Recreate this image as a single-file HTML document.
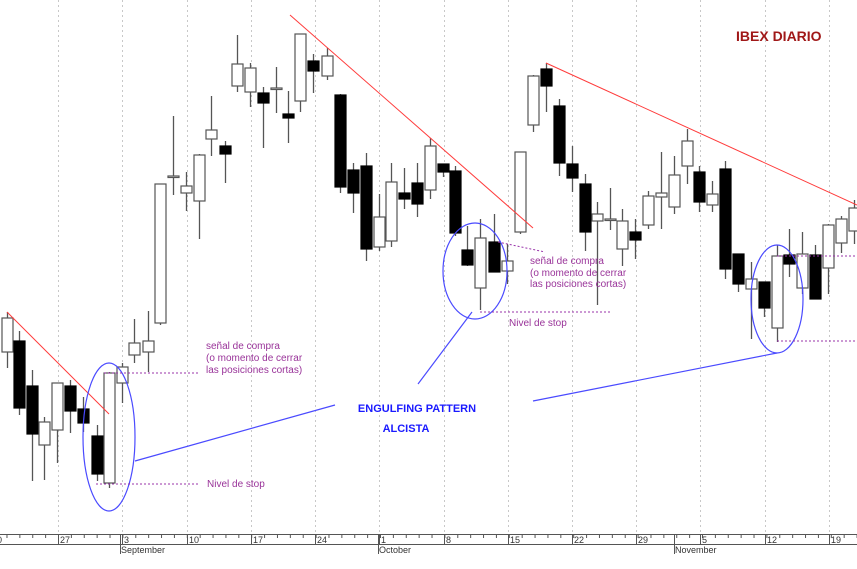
<!DOCTYPE html>
<html><head><meta charset="utf-8"><style>
html,body{margin:0;padding:0;background:#fff;}
svg{display:block;font-family:"Liberation Sans",sans-serif;}
</style></head><body>
<svg id="c" width="857" height="569" viewBox="0 0 857 569" xmlns="http://www.w3.org/2000/svg">
<rect width="857" height="569" fill="#fff"/>
<g id="grid" stroke="#c8c8c8" stroke-dasharray="2,3" stroke-width="1"></g>
<g id="axis"></g>
<g id="candles"></g>
<g fill="none" stroke="#ff3b3b" stroke-width="1">
<line x1="7" y1="312" x2="109" y2="414"/>
<line x1="290" y1="15" x2="533" y2="228"/>
<line x1="546" y1="63" x2="857" y2="205"/>
</g>
<g fill="none" stroke="#4a4aff" stroke-width="1.2">
<ellipse cx="109" cy="437" rx="26" ry="74"/>
<ellipse cx="475" cy="271" rx="32" ry="48"/>
<ellipse cx="777" cy="299" rx="26" ry="54"/>
<line x1="135" y1="461" x2="335" y2="405"/>
<line x1="418" y1="384" x2="472" y2="312"/>
<line x1="533" y1="401" x2="777" y2="353"/>
</g>
<g fill="none" stroke="#9933aa" stroke-width="1" stroke-dasharray="2,2">
<line x1="104" y1="373" x2="200" y2="373"/>
<line x1="96" y1="484" x2="200" y2="484"/>
<line x1="498" y1="242" x2="545" y2="252"/>
<line x1="480" y1="312" x2="610" y2="312"/>
<line x1="777" y1="256" x2="857" y2="256"/>
<line x1="777" y1="341" x2="857" y2="341"/>
</g>
<g fill="#993399" font-size="10">
<text x="206" y="349">señal de compra</text>
<text x="206" y="361">(o momento de cerrar</text>
<text x="206" y="373">las posiciones cortas)</text>
<text x="207" y="487">Nivel de stop</text>
<text x="530" y="264">señal de compra</text>
<text x="530" y="276">(o momento de cerrar</text>
<text x="530" y="287">las posiciones cortas)</text>
<text x="509" y="326">Nivel de stop</text>
</g>
<g fill="#1a1aff" font-size="11" font-weight="bold" text-anchor="middle">
<text x="417" y="412">ENGULFING PATTERN</text>
<text x="406" y="432">ALCISTA</text>
</g>
<text x="736" y="41" fill="#a01818" font-size="14" font-weight="bold">IBEX DIARIO</text>
</svg>
<script>
var NS="http://www.w3.org/2000/svg";
function el(p,t,a){var e=document.createElementNS(NS,t);for(var k in a)e.setAttribute(k,a[k]);p.appendChild(e);return e;}
// x, boxTop, boxBot, wickHi, wickLo, black?
var C=[[7,318,352,312,368,0],[19,341,408,331,415,1],[32,386,434,370,481,1],[44,422,445,417,480,0],[57,383,430,383,463,0],[70,386,411,380,433,1],[83,409,423,397,432,1],[97,436,474,425,481,1],[109,373,483,372,488,0],[122,367,383,363,403,0],[134,343,355,319,363,0],[148,341,352,311,372,0],[160,184,323,184,325,0],[173,176,176,116,195,0],[186,186,193,172,211,0],[199,155,201,154,239,0],[211,130,139,96,156,0],[225,146,154,141,183,1],[237,64,86,35,92,0],[250,68,92,63,107,0],[263,93,103,87,148,1],[276,88,88,67,113,0],[288,114,118,91,143,1],[300,34,101,34,112,0],[313,61,71,54,93,1],[327,56,76,48,80,0],[340,95,187,94,193,1],[353,170,193,163,213,1],[366,166,249,153,261,1],[379,217,247,194,251,0],[391,182,241,163,247,0],[404,193,199,168,209,1],[417,183,204,163,217,1],[430,146,190,138,199,0],[443,164,172,164,177,1],[455,171,233,166,236,1],[467,250,265,226,266,1],[480,238,288,219,310,0],[494,242,272,214,272,1],[507,261,271,244,284,0],[520,152,232,152,234,0],[533,76,125,75,132,0],[546,69,86,63,112,1],[559,106,163,99,176,1],[572,164,178,146,192,1],[585,184,232,174,251,1],[597,214,221,202,305,0],[610,219,219,188,230,0],[622,221,249,209,266,0],[635,232,240,219,259,1],[648,196,225,191,229,0],[661,193,197,152,229,0],[674,175,207,156,214,0],[687,141,166,129,184,0],[699,172,202,166,212,1],[712,194,205,181,212,0],[725,169,269,161,279,1],[738,254,284,254,292,1],[751,279,289,262,339,0],[764,282,308,282,317,1],[777,256,328,245,342,0],[789,255,264,229,277,1],[802,254,288,232,294,0],[815,255,299,245,299,1],[828,225,268,224,294,0],[841,219,243,216,253,0],[854,208,231,200,244,0]];
var g=document.getElementById("candles");
C.forEach(function(c){
 el(g,"line",{x1:c[0]+.5,x2:c[0]+.5,y1:c[3],y2:c[4],stroke:"#555","stroke-width":1.3});
 var h=Math.max(c[2]-c[1],1.5);
 el(g,"rect",{x:c[0]-5,y:c[1],width:11,height:h,fill:c[5]?"#000":"#fff",stroke:c[5]?"#000":"#555","stroke-width":1.2});
});
var gr=document.getElementById("grid");
var gx=[58,122,187,251,315,379,444,508,572,636,700,765,829];
gx.forEach(function(x){el(gr,"line",{x1:x+.5,x2:x+.5,y1:0,y2:534});});
var ax=document.getElementById("axis");
el(ax,"line",{x1:0,x2:857,y1:534.5,y2:534.5,stroke:"#555"});
el(ax,"line",{x1:0,x2:857,y1:544.5,y2:544.5,stroke:"#555"});
for(var x=-6.4;x<857;x+=12.88){el(ax,"line",{x1:x+.5,x2:x+.5,y1:535,y2:538,stroke:"#555"});}
var lb=["27","3","10","17","24","1","8","15","22","29","5","12","19"];
gx.forEach(function(x,i){el(ax,"line",{x1:x+.5,x2:x+.5,y1:535,y2:544,stroke:"#555"});var t=el(ax,"text",{x:x+2,y:543,"font-size":"9",fill:"#333"});t.textContent=lb[i];});
var t0=el(ax,"text",{x:-3,y:543,"font-size":"9",fill:"#333"});t0.textContent="0";
[[120,"September"],[378,"October"],[674,"November"]].forEach(function(m){el(ax,"line",{x1:m[0]+.5,x2:m[0]+.5,y1:535,y2:554,stroke:"#555"});var t=el(ax,"text",{x:m[0]+1,y:553,"font-size":"9",fill:"#333"});t.textContent=m[1];});
</script>
</body></html>
